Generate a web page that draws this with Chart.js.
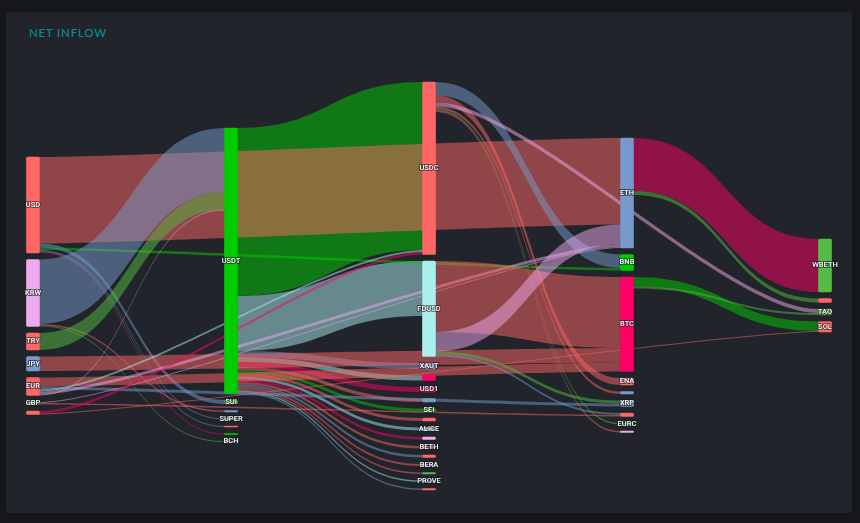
<!DOCTYPE html>
<html>
<head>
<meta charset="utf-8">
<script src="https://cdn.jsdelivr.net/npm/chart.js@4"></script>
<style>
  html, body { margin: 0; background: #15171b; }
  #panel { position: absolute; left: 6px; top: 12px; width: 846px; height: 501px; background: #21252b; border-radius: 4px; }
  #title { position: absolute; left: 29px; top: 26px; color: #078f93; font: 500 11.5px Lato, sans-serif; letter-spacing: 0.8px; }
  #myChart { position: absolute; left: 0; top: 0; }
</style>
</head>
<body>
<div id="panel"></div>
<div id="title">NET INFLOW</div>
<canvas id="myChart" width="860" height="523"></canvas>
<script>
// nodes, column by column. names starting with _ have no label in the picture
const nodeNames = [
  'USD', 'KRW', 'TRY', 'JPY', 'EUR', 'GBP', '_c0',
  'USDT', 'SUI', '_c1', 'SUPER', '_c2', '_c3', 'BCH',
  'USDC', 'FDUSD', 'XAUT', '_c4', 'USD1', '_c5', 'SEI', '_c6', 'ALICE', '_c7', 'BETH', '_c8', 'BERA', '_c9', 'PROVE', '_c10',
  'ETH', 'BNB', 'BTC', 'ENA', '_c11', 'XRP', '_c12', 'EURC', '_c13',
  'WBETH', '_c14', 'TAO', 'SOL'
]

// the USDT group comes first so the other bands are painted over it
const linkSource = [
  'USDT', 'USDT', 'USDT', 'USDT', 'USDT', 'USDT', 'USDT', 'USDT', 'USDT', 'USDT', 'USDT', 'USDT', 'USDT', 'USDT', 'USDT', 'USDT',
  'USD', 'USD', 'USD', 'USD', 'USD', 'USD',
  'KRW', 'KRW', 'KRW',
  'TRY', 'JPY',
  'EUR', 'EUR', 'EUR', 'EUR', 'EUR',
  'GBP', 'GBP', '_c0', '_c0',
  'USDC', 'USDC', 'USDC', 'USDC', 'USDC', 'USDC',
  'FDUSD', 'FDUSD', 'FDUSD', 'FDUSD',
  'ETH', 'ETH', 'BTC', 'BTC'
]
const linkTarget = [
  'USDC', 'FDUSD', 'XAUT', '_c4', 'USD1', '_c5', 'SEI', '_c6', 'ALICE', '_c7', 'BETH', '_c8', 'BERA', '_c9', 'PROVE', '_c10',
  'ETH', 'SUI', 'BNB', 'SUPER', '_c2', '_c3',
  'USDT', '_c1', 'BCH',
  'USDT', 'BTC',
  'BTC', 'XRP', 'USDC', 'ETH', 'USDT',
  'ETH', '_c12', 'USDC', 'SOL',
  'BNB', 'ENA', 'TAO', '_c11', 'EURC', '_c13',
  'BTC', 'ETH', 'XRP', '_c12',
  'WBETH', '_c14', 'SOL', 'TAO'
]
const linkValue = [
  168, 55, 6, 5, 5, 3.5, 3, 3, 3, 2.5, 2.5, 2.5, 2, 1.5, 1.5, 1.5,
  86.5, 4, 2.5, 1, 1, 1,
  64.5, 1.5, 1,
  17, 14.5,
  9, 3, 2, 3, 1,
  1, 1.5, 2.5, 1,
  13.5, 7, 4, 2.5, 1.5, 1.5,
  71, 19.5, 3, 2,
  53, 4, 9.5, 2
]

const red = '#ff6666', blue = '#7799cc', green = '#00cc00', olive = '#55bb44'
const teal = '#aaeeee', pink = '#eeaaee', magenta = '#ff0066'

const linkColors = [
  green, teal, blue, teal, magenta, red, green, red, teal, magenta, red, blue, red, red, teal, blue,
  red, blue, green, blue, blue, magenta,
  blue, red, olive,
  olive, red,
  red, blue, teal, pink, pink,
  pink, red, magenta, red,
  blue, red, pink, red, olive, red,
  red, pink, olive, blue,
  magenta, olive, green, olive
]
const nodeColors = [
  red, pink, red, blue, red, green, red,
  green, olive, blue, teal, red, green, olive,
  red, teal, blue, magenta, magenta, blue, green, red, teal, pink, red, red, blue, olive, blue, red,
  blue, green, magenta, red, blue, blue, red, green, pink,
  olive, red, olive, red
]

// layout of the columns, in y axis units
const columnTop = [157, 128, 82, 138, 239]
const nodeGap = 6.5
const nodeWidth = 13

// work out columns, node sizes and stacking from the links
const depth = {}
nodeNames.forEach(n => depth[n] = 0)
for (let pass = 0; pass < 5; pass++) {
  linkSource.forEach((s, i) => {
    depth[linkTarget[i]] = Math.max(depth[linkTarget[i]], depth[s] + 1)
  })
}
const sumBy = (keys, name) => keys.reduce((a, k, i) => k === name ? a + linkValue[i] : a, 0)
const nodeSize = nodeNames.map(n => Math.max(sumBy(linkSource, n), sumBy(linkTarget, n)))

const nodeY = {}
const nextY = columnTop.slice()
nodeNames.forEach((n, i) => {
  nodeY[n] = nextY[depth[n]]
  nextY[depth[n]] += nodeSize[i] + nodeGap
})

const links = linkSource.map((s, i) => ({ s, t: linkTarget[i], v: linkValue[i], color: linkColors[i], i }))
nodeNames.forEach(n => {
  let y = nodeY[n]
  links.filter(l => l.s === n).forEach(l => { l.y0 = y; y += l.v })
  y = nodeY[n]
  links.filter(l => l.t === n)
    .sort((a, b) => nodeY[a.s] - nodeY[b.s] || a.i - b.i)
    .forEach(l => { l.y1 = y; y += l.v })
})

const sankeyLinks = {
  id: 'sankeyLinks',
  beforeDatasetsDraw(chart) {
    const { ctx, scales: { x, y } } = chart
    // control points sit half a column away, so links over several columns run almost straight
    const bend = (x.getPixelForValue(1) - x.getPixelForValue(0) - nodeWidth) / 2
    ctx.save()
    links.forEach(l => {
      const x0 = x.getPixelForValue(depth[l.s]) + nodeWidth / 2
      const x1 = x.getPixelForValue(depth[l.t]) - nodeWidth / 2
      const a0 = y.getPixelForValue(l.y0), b0 = y.getPixelForValue(l.y0 + l.v)
      const a1 = y.getPixelForValue(l.y1), b1 = y.getPixelForValue(l.y1 + l.v)
      ctx.beginPath()
      ctx.moveTo(x0, a0)
      ctx.bezierCurveTo(x0 + bend, a0, x1 - bend, a1, x1, a1)
      ctx.lineTo(x1, b1)
      ctx.bezierCurveTo(x1 - bend, b1, x0 + bend, b0, x0, b0)
      ctx.closePath()
      ctx.globalAlpha = 0.5
      ctx.fillStyle = l.color
      ctx.fill()
    })
    ctx.restore()
  }
}

const sankeyLabels = {
  id: 'sankeyLabels',
  afterDatasetsDraw(chart) {
    const { ctx, scales: { x, y } } = chart
    ctx.save()
    ctx.font = '500 7.5px Roboto, sans-serif'
    ctx.textAlign = 'center'
    ctx.textBaseline = 'middle'
    ctx.lineJoin = 'round'
    nodeNames.forEach((n, i) => {
      if (n[0] === '_') return
      const px = x.getPixelForValue(depth[n])
      const py = y.getPixelForValue(nodeY[n] + nodeSize[i] / 2)
      ctx.lineWidth = 2
      ctx.strokeStyle = 'rgba(20,22,26,0.6)'
      ctx.strokeText(n, px, py)
      ctx.fillStyle = '#fff'
      ctx.fillText(n, px, py)
    })
    ctx.restore()
  }
}

new Chart(document.getElementById('myChart').getContext('2d'), {
  type: 'bar',
  data: {
    datasets: [{
      label: 'NET INFLOW',
      data: nodeNames.map((n, i) => ({ x: depth[n], y: [nodeY[n], nodeY[n] + nodeSize[i]] })),
      backgroundColor: nodeColors,
      barThickness: nodeWidth,
      grouped: false,
      borderRadius: 1.5,
      borderSkipped: false,
      clip: false
    }]
  },
  options: {
    responsive: false,
    animation: false,
    layout: { padding: { left: 33, right: 35, top: 0, bottom: 0 } },
    plugins: { legend: { display: false }, tooltip: { enabled: false } },
    scales: {
      x: { type: 'linear', min: 0, max: 4, offset: false, display: false },
      y: { min: 0, max: 523, reverse: true, display: false }
    }
  },
  plugins: [sankeyLinks, sankeyLabels]
})
</script>
</body>
</html>
